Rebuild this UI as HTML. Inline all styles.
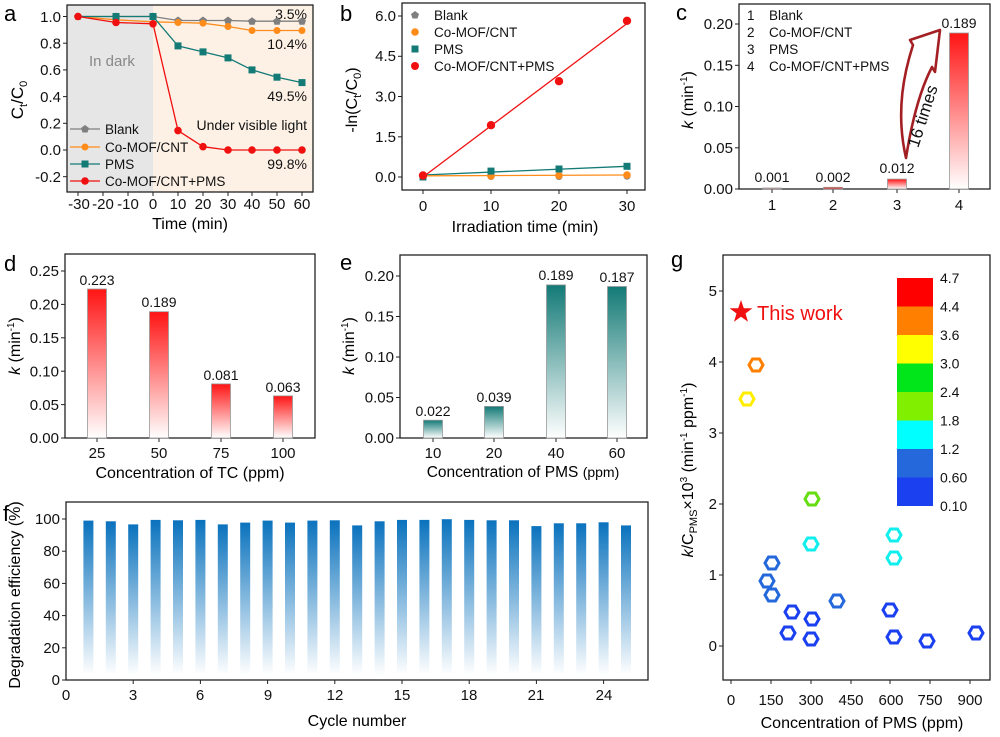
<!DOCTYPE html>
<html><head><meta charset="utf-8"><style>
html,body{margin:0;padding:0;background:#fff;}
svg{display:block;font-family:"Liberation Sans",Arial,sans-serif;}
</style></head><body>
<svg width="1000" height="737" viewBox="0 0 1000 737" xmlns="http://www.w3.org/2000/svg">
<defs>
<linearGradient id="gr" x1="0" y1="0" x2="0" y2="1"><stop offset="0" stop-color="#ff1414"/><stop offset="1" stop-color="#ffffff"/></linearGradient>
<linearGradient id="gt" x1="0" y1="0" x2="0" y2="1"><stop offset="0" stop-color="#137a76"/><stop offset="1" stop-color="#ffffff"/></linearGradient>
<linearGradient id="gb" x1="0" y1="0" x2="0" y2="1"><stop offset="0" stop-color="#0a72bd"/><stop offset="1" stop-color="#ffffff"/></linearGradient>
</defs>

<!-- ============ Panel a ============ -->
<rect x="67" y="5" width="86" height="187" fill="#e6e6e6"/>
<rect x="153" y="5" width="160" height="187" fill="#fdf1e6"/>
<rect x="67" y="5" width="246" height="187" fill="none" stroke="#222" stroke-width="1.3"/>
<g stroke="#222" stroke-width="1">
<line x1="63" y1="16.5" x2="67" y2="16.5"/><line x1="63" y1="43.2" x2="67" y2="43.2"/><line x1="63" y1="69.9" x2="67" y2="69.9"/><line x1="63" y1="96.6" x2="67" y2="96.6"/><line x1="63" y1="123.3" x2="67" y2="123.3"/><line x1="63" y1="150" x2="67" y2="150"/><line x1="63" y1="176.7" x2="67" y2="176.7"/>
<line x1="78" y1="192" x2="78" y2="196"/><line x1="103" y1="192" x2="103" y2="196"/><line x1="128" y1="192" x2="128" y2="196"/><line x1="153" y1="192" x2="153" y2="196"/><line x1="178" y1="192" x2="178" y2="196"/><line x1="203" y1="192" x2="203" y2="196"/><line x1="228" y1="192" x2="228" y2="196"/><line x1="252" y1="192" x2="252" y2="196"/><line x1="277" y1="192" x2="277" y2="196"/><line x1="302" y1="192" x2="302" y2="196"/>
</g>
<g font-size="15" text-anchor="end" fill="#111">
<text x="61" y="22">1.0</text><text x="61" y="48.5">0.8</text><text x="61" y="75">0.6</text><text x="61" y="102">0.4</text><text x="61" y="128.5">0.2</text><text x="61" y="155">0.0</text><text x="61" y="182">-0.2</text>
</g>
<g font-size="15" text-anchor="middle" fill="#111">
<text x="79" y="209">-30</text><text x="103" y="209">-20</text><text x="128" y="209">-10</text><text x="153" y="209">0</text><text x="178" y="209">10</text><text x="203" y="209">20</text><text x="228" y="209">30</text><text x="252" y="209">40</text><text x="277" y="209">50</text><text x="302" y="209">60</text>
</g>
<text x="190" y="229" font-size="16" text-anchor="middle">Time (min)</text>
<text transform="translate(23,100) rotate(-90)" font-size="17" text-anchor="middle">C<tspan font-size="11" dy="4">t</tspan><tspan dy="-4">/C</tspan><tspan font-size="11" dy="4">0</tspan></text>
<text x="4" y="21" font-size="22">a</text>
<text x="89" y="66" font-size="15" fill="#888">In dark</text>
<g font-size="14" text-anchor="end" fill="#111">
<text x="307" y="19">3.5%</text><text x="307" y="49">10.4%</text><text x="307" y="101">49.5%</text><text x="307" y="130">Under visible light</text><text x="307" y="169">99.8%</text>
</g>
<polyline fill="none" stroke="#7f7f7f" stroke-width="1.3" points="78,16.5 116,16.5 153,16.5 178,20.5 203,20.5 228,20.5 252,21.2 277,21.2 302,21.2"/>
<polyline fill="none" stroke="#ff8c1a" stroke-width="1.3" points="78,16.5 116,19.8 153,21.8 178,22.5 203,23.2 228,26.5 252,30.5 277,30.5 302,30.5"/>
<polyline fill="none" stroke="#137a76" stroke-width="1.3" points="78,16.5 116,16.5 153,16.5 178,45.9 203,51.9 228,57.9 252,69.9 277,77.2 302,82.6"/>
<polyline fill="none" stroke="#f01010" stroke-width="1.3" points="78,16.5 116,22.5 153,23.8 178,130.6 203,146.7 228,150 252,150 277,150 302,150"/>
<g fill="#7f7f7f">
<polygon points="78,12.5 82,15.5 80.5,20 75.5,20 74,15.5"/><polygon points="116,12.5 120,15.5 118.5,20 113.5,20 112,15.5"/><polygon points="153,12.5 157,15.5 155.5,20 150.5,20 149,15.5"/><polygon points="178,16.5 182,19.5 180.5,24 175.5,24 174,19.5"/><polygon points="203,16.5 207,19.5 205.5,24 200.5,24 199,19.5"/><polygon points="228,16.5 232,19.5 230.5,24 225.5,24 224,19.5"/><polygon points="252,17.2 256,20.2 254.5,24.7 249.5,24.7 248,20.2"/><polygon points="277,17.2 281,20.2 279.5,24.7 274.5,24.7 273,20.2"/><polygon points="302,17.2 306,20.2 304.5,24.7 299.5,24.7 298,20.2"/>
</g>
<g fill="#ff8c1a">
<circle cx="116" cy="19.8" r="3.5"/><circle cx="178" cy="22.5" r="3.5"/><circle cx="203" cy="23.2" r="3.5"/><circle cx="228" cy="26.5" r="3.5"/><circle cx="252" cy="30.5" r="3.5"/><circle cx="277" cy="30.5" r="3.5"/><circle cx="302" cy="30.5" r="3.5"/>
</g>
<g fill="#137a76">
<rect x="112.5" y="13" width="7" height="7"/><rect x="149.5" y="13" width="7" height="7"/><rect x="174.5" y="42.4" width="7" height="7"/><rect x="199.5" y="48.4" width="7" height="7"/><rect x="224.5" y="54.4" width="7" height="7"/><rect x="248.5" y="66.4" width="7" height="7"/><rect x="273.5" y="73.7" width="7" height="7"/><rect x="298.5" y="79.1" width="7" height="7"/>
</g>
<g fill="#f01010">
<circle cx="78" cy="16.5" r="3.8"/><circle cx="116" cy="22.5" r="3.8"/><circle cx="153" cy="23.8" r="3.8"/><circle cx="178" cy="130.6" r="3.8"/><circle cx="203" cy="146.7" r="3.8"/><circle cx="228" cy="150" r="3.8"/><circle cx="252" cy="150" r="3.8"/><circle cx="277" cy="150" r="3.8"/><circle cx="302" cy="150" r="3.8"/>
</g>
<line x1="70" y1="129" x2="100" y2="129" stroke="#7f7f7f" stroke-width="1.3"/><polygon points="85,125 89,128 87.5,132.5 82.5,132.5 81,128" fill="#7f7f7f"/>
<line x1="70" y1="147" x2="100" y2="147" stroke="#ff8c1a" stroke-width="1.3"/><circle cx="85" cy="147" r="3.5" fill="#ff8c1a"/>
<line x1="70" y1="164" x2="100" y2="164" stroke="#137a76" stroke-width="1.3"/><rect x="81.5" y="160.5" width="7" height="7" fill="#137a76"/>
<line x1="70" y1="181" x2="100" y2="181" stroke="#f01010" stroke-width="1.3"/><circle cx="85" cy="181" r="3.8" fill="#f01010"/>
<g font-size="13.5" fill="#111">
<text x="105" y="134">Blank</text><text x="105" y="152">Co-MOF/CNT</text><text x="105" y="169">PMS</text><text x="105" y="186">Co-MOF/CNT+PMS</text>
</g>

<!-- ============ Panel b ============ -->
<rect x="402" y="3" width="243" height="187" fill="none" stroke="#222" stroke-width="1.3"/>
<g stroke="#222" stroke-width="1">
<line x1="398" y1="16" x2="402" y2="16"/><line x1="398" y1="56.3" x2="402" y2="56.3"/><line x1="398" y1="96.5" x2="402" y2="96.5"/><line x1="398" y1="136.8" x2="402" y2="136.8"/><line x1="398" y1="177" x2="402" y2="177"/>
<line x1="423" y1="190" x2="423" y2="194"/><line x1="491" y1="190" x2="491" y2="194"/><line x1="559" y1="190" x2="559" y2="194"/><line x1="627" y1="190" x2="627" y2="194"/>
</g>
<g font-size="15" text-anchor="end" fill="#111">
<text x="396" y="21">6.0</text><text x="396" y="61">4.5</text><text x="396" y="101.5">3.0</text><text x="396" y="142">1.5</text><text x="396" y="182">0.0</text>
</g>
<g font-size="15" text-anchor="middle" fill="#111">
<text x="423" y="211">0</text><text x="491" y="211">10</text><text x="559" y="211">20</text><text x="627" y="211">30</text>
</g>
<text x="525" y="232" font-size="16" text-anchor="middle">Irradiation time (min)</text>
<text transform="translate(357,100) rotate(-90)" font-size="16" text-anchor="middle">-ln(C<tspan font-size="11" dy="4">t</tspan><tspan dy="-4">/C</tspan><tspan font-size="11" dy="4">0</tspan><tspan dy="-4">)</tspan></text>
<text x="340" y="21" font-size="22">b</text>
<line x1="423" y1="177" x2="627" y2="23.5" stroke="#f01010" stroke-width="1.3"/>
<line x1="423" y1="175" x2="627" y2="166.3" stroke="#137a76" stroke-width="1.3"/>
<line x1="423" y1="175.8" x2="627" y2="175" stroke="#ff8c1a" stroke-width="1.3"/>
<g fill="#7f7f7f"><circle cx="423" cy="177" r="3.5"/><circle cx="491" cy="176.5" r="3.5"/><circle cx="559" cy="176.5" r="3.5"/><circle cx="627" cy="176.2" r="3.5"/></g>
<g fill="#ff8c1a"><circle cx="491" cy="176" r="3.8"/><circle cx="559" cy="175.5" r="3.8"/><circle cx="627" cy="175" r="3.8"/></g>
<g fill="#137a76"><rect x="419.5" y="173.5" width="7" height="7"/><rect x="487.5" y="167.6" width="7" height="7"/><rect x="555.5" y="165.5" width="7" height="7"/><rect x="623.5" y="162.8" width="7" height="7"/></g>
<g fill="#f01010"><circle cx="423" cy="175.5" r="4.2"/><circle cx="491" cy="125.2" r="4.2"/><circle cx="559" cy="81.2" r="4.2"/><circle cx="627" cy="20.8" r="4.2"/></g>
<polygon points="415,11 419,14 417.5,18.5 412.5,18.5 411,14" fill="#7f7f7f"/>
<circle cx="415" cy="32" r="3.8" fill="#ff8c1a"/>
<rect x="411.5" y="45.5" width="7" height="7" fill="#137a76"/>
<circle cx="415" cy="66" r="4" fill="#f01010"/>
<g font-size="13.5" fill="#111"><text x="434" y="20">Blank</text><text x="434" y="37">Co-MOF/CNT</text><text x="434" y="54">PMS</text><text x="434" y="71">Co-MOF/CNT+PMS</text></g>

<!-- ============ Panel c ============ -->
<rect x="739" y="4" width="251" height="185" fill="none" stroke="#222" stroke-width="1.3"/>
<g stroke="#222" stroke-width="1">
<line x1="735" y1="24" x2="739" y2="24"/><line x1="735" y1="65.3" x2="739" y2="65.3"/><line x1="735" y1="106.5" x2="739" y2="106.5"/><line x1="735" y1="147.8" x2="739" y2="147.8"/><line x1="735" y1="189" x2="739" y2="189"/>
<line x1="772" y1="189" x2="772" y2="193"/><line x1="833" y1="189" x2="833" y2="193"/><line x1="897" y1="189" x2="897" y2="193"/><line x1="959" y1="189" x2="959" y2="193"/>
</g>
<g font-size="15" text-anchor="end" fill="#111">
<text x="733" y="29">0.20</text><text x="733" y="70.5">0.15</text><text x="733" y="111.5">0.10</text><text x="733" y="153">0.05</text><text x="733" y="194">0.00</text>
</g>
<g font-size="15" text-anchor="middle" fill="#111">
<text x="772" y="210">1</text><text x="833" y="210">2</text><text x="897" y="210">3</text><text x="959" y="210">4</text>
</g>
<text transform="translate(693,100) rotate(-90)" font-size="16" text-anchor="middle"><tspan font-style="italic">k</tspan> (min<tspan font-size="10" dy="-6">-1</tspan><tspan dy="6">)</tspan></text>
<text x="676" y="20" font-size="22">c</text>
<rect x="762.5" y="188" width="19" height="1" fill="url(#gr)" stroke="#999" stroke-width="0.8"/>
<rect x="823.5" y="187.3" width="19" height="1.7" fill="#e33" stroke="#999" stroke-width="0.8"/>
<rect x="887.5" y="179.1" width="19" height="9.9" fill="url(#gr)" stroke="#999" stroke-width="0.8"/>
<rect x="949.5" y="33" width="19" height="156" fill="url(#gr)" stroke="#999" stroke-width="0.8"/>
<g font-size="14" text-anchor="middle" fill="#111">
<text x="772" y="182">0.001</text><text x="833" y="182">0.002</text><text x="897" y="173">0.012</text><text x="959" y="28">0.189</text>
</g>
<g font-size="13.5" fill="#111">
<text x="747" y="20">1</text><text x="769" y="20">Blank</text>
<text x="747" y="37">2</text><text x="769" y="37">Co-MOF/CNT</text>
<text x="747" y="54">3</text><text x="769" y="54">PMS</text>
<text x="747" y="71">4</text><text x="769" y="71">Co-MOF/CNT+PMS</text>
</g>
<path d="M906,158 C895,110 905,70 913,45 L910,40 L940,30 L935,72 L932,67 C920,90 912,120 906,158 Z" fill="none" stroke="#a31f24" stroke-width="2.6" stroke-linejoin="round"/>
<text transform="translate(928,118) rotate(-72)" font-size="17" text-anchor="middle" fill="#111">16 times</text>

<!-- ============ Panel d ============ -->
<rect x="65" y="254" width="250" height="184" fill="none" stroke="#222" stroke-width="1.3"/>
<g stroke="#222" stroke-width="1">
<line x1="61" y1="271" x2="65" y2="271"/><line x1="61" y1="304.4" x2="65" y2="304.4"/><line x1="61" y1="337.8" x2="65" y2="337.8"/><line x1="61" y1="371.2" x2="65" y2="371.2"/><line x1="61" y1="404.6" x2="65" y2="404.6"/><line x1="61" y1="438" x2="65" y2="438"/>
<line x1="97" y1="438" x2="97" y2="442"/><line x1="159" y1="438" x2="159" y2="442"/><line x1="221" y1="438" x2="221" y2="442"/><line x1="283" y1="438" x2="283" y2="442"/>
</g>
<g font-size="15" text-anchor="end" fill="#111">
<text x="59" y="276">0.25</text><text x="59" y="309.5">0.20</text><text x="59" y="343">0.15</text><text x="59" y="376.5">0.10</text><text x="59" y="410">0.05</text><text x="59" y="443">0.00</text>
</g>
<g font-size="15" text-anchor="middle" fill="#111">
<text x="97" y="458">25</text><text x="159" y="458">50</text><text x="221" y="458">75</text><text x="283" y="458">100</text>
</g>
<text x="190" y="478" font-size="16" text-anchor="middle">Concentration of TC (ppm)</text>
<text transform="translate(20,346) rotate(-90)" font-size="16" text-anchor="middle"><tspan font-style="italic">k</tspan> (min<tspan font-size="10" dy="-6">-1</tspan><tspan dy="6">)</tspan></text>
<text x="4" y="271" font-size="22">d</text>
<rect x="87.5" y="289" width="19" height="149" fill="url(#gr)" stroke="#999" stroke-width="0.8"/>
<rect x="149.5" y="311.7" width="19" height="126.3" fill="url(#gr)" stroke="#999" stroke-width="0.8"/>
<rect x="211.5" y="383.9" width="19" height="54.1" fill="url(#gr)" stroke="#999" stroke-width="0.8"/>
<rect x="273.5" y="395.9" width="19" height="42.1" fill="url(#gr)" stroke="#999" stroke-width="0.8"/>
<g font-size="14" text-anchor="middle" fill="#111">
<text x="97" y="285">0.223</text><text x="159" y="307">0.189</text><text x="221" y="380">0.081</text><text x="283" y="392">0.063</text>
</g>

<!-- ============ Panel e ============ -->
<rect x="400" y="255" width="247" height="183" fill="none" stroke="#222" stroke-width="1.3"/>
<g stroke="#222" stroke-width="1">
<line x1="396" y1="276" x2="400" y2="276"/><line x1="396" y1="316.5" x2="400" y2="316.5"/><line x1="396" y1="357" x2="400" y2="357"/><line x1="396" y1="397.5" x2="400" y2="397.5"/><line x1="396" y1="438" x2="400" y2="438"/>
<line x1="433" y1="438" x2="433" y2="442"/><line x1="494" y1="438" x2="494" y2="442"/><line x1="556" y1="438" x2="556" y2="442"/><line x1="617" y1="438" x2="617" y2="442"/>
</g>
<g font-size="15" text-anchor="end" fill="#111">
<text x="394" y="281">0.20</text><text x="394" y="321.5">0.15</text><text x="394" y="362">0.10</text><text x="394" y="402.5">0.05</text><text x="394" y="443">0.00</text>
</g>
<g font-size="15" text-anchor="middle" fill="#111">
<text x="433" y="458">10</text><text x="494" y="458">20</text><text x="556" y="458">40</text><text x="617" y="458">60</text>
</g>
<text x="523" y="477" font-size="15.5" text-anchor="middle">Concentration of PMS <tspan font-size="14">(ppm)</tspan></text>
<text transform="translate(354,346) rotate(-90)" font-size="16" text-anchor="middle"><tspan font-style="italic">k</tspan> (min<tspan font-size="10" dy="-6">-1</tspan><tspan dy="6">)</tspan></text>
<text x="340" y="270" font-size="22">e</text>
<rect x="423.5" y="420.2" width="19" height="17.8" fill="url(#gt)" stroke="#999" stroke-width="0.8"/>
<rect x="484.5" y="406.4" width="19" height="31.6" fill="url(#gt)" stroke="#999" stroke-width="0.8"/>
<rect x="546.5" y="284.9" width="19" height="153.1" fill="url(#gt)" stroke="#999" stroke-width="0.8"/>
<rect x="607.5" y="286.5" width="19" height="151.5" fill="url(#gt)" stroke="#999" stroke-width="0.8"/>
<g font-size="14" text-anchor="middle" fill="#111">
<text x="433" y="416">0.022</text><text x="494" y="402">0.039</text><text x="556" y="280">0.189</text><text x="617" y="282">0.187</text>
</g>

<!-- ============ Panel f ============ -->
<g fill="url(#gb)">
<rect x="83.4" y="520.6" width="10" height="154.4"/>
<rect x="105.8" y="521.3" width="10" height="153.7"/>
<rect x="128.2" y="524.4" width="10" height="150.6"/>
<rect x="150.6" y="519.9" width="10" height="155.1"/>
<rect x="173" y="520.3" width="10" height="154.7"/>
<rect x="195.4" y="519.9" width="10" height="155.1"/>
<rect x="217.8" y="524.4" width="10" height="150.6"/>
<rect x="240.2" y="522.6" width="10" height="152.4"/>
<rect x="262.6" y="520.6" width="10" height="154.4"/>
<rect x="285" y="522.6" width="10" height="152.4"/>
<rect x="307.4" y="520.6" width="10" height="154.4"/>
<rect x="329.8" y="520.3" width="10" height="154.7"/>
<rect x="352.2" y="525.4" width="10" height="149.6"/>
<rect x="374.6" y="521.3" width="10" height="153.7"/>
<rect x="397" y="519.9" width="10" height="155.1"/>
<rect x="419.4" y="519.9" width="10" height="155.1"/>
<rect x="441.8" y="519.2" width="10" height="155.8"/>
<rect x="464.2" y="519.9" width="10" height="155.1"/>
<rect x="486.6" y="520.3" width="10" height="154.7"/>
<rect x="509" y="520.3" width="10" height="154.7"/>
<rect x="531.4" y="526.1" width="10" height="148.9"/>
<rect x="553.8" y="523.3" width="10" height="151.7"/>
<rect x="576.2" y="523.3" width="10" height="151.7"/>
<rect x="598.6" y="522.3" width="10" height="152.7"/>
<rect x="621" y="525.4" width="10" height="149.6"/>
</g>
<rect x="66" y="502" width="582" height="178" fill="none" stroke="#222" stroke-width="1.3"/>
<g stroke="#222" stroke-width="1">
<line x1="62" y1="519" x2="66" y2="519"/><line x1="62" y1="551.2" x2="66" y2="551.2"/><line x1="62" y1="583.4" x2="66" y2="583.4"/><line x1="62" y1="615.6" x2="66" y2="615.6"/><line x1="62" y1="647.8" x2="66" y2="647.8"/><line x1="62" y1="680" x2="66" y2="680"/>
<line x1="133.2" y1="680" x2="133.2" y2="684"/><line x1="200.4" y1="680" x2="200.4" y2="684"/><line x1="267.6" y1="680" x2="267.6" y2="684"/><line x1="334.8" y1="680" x2="334.8" y2="684"/><line x1="402" y1="680" x2="402" y2="684"/><line x1="469.2" y1="680" x2="469.2" y2="684"/><line x1="536.4" y1="680" x2="536.4" y2="684"/><line x1="603.6" y1="680" x2="603.6" y2="684"/>
</g>
<g font-size="15" text-anchor="end" fill="#111">
<text x="60" y="524">100</text><text x="60" y="556">80</text><text x="60" y="588.5">60</text><text x="60" y="620.5">40</text><text x="60" y="653">20</text><text x="60" y="685">0</text>
</g>
<g font-size="15" text-anchor="middle" fill="#111">
<text x="66" y="700">0</text><text x="133" y="700">3</text><text x="200" y="700">6</text><text x="268" y="700">9</text><text x="335" y="700">12</text><text x="402" y="700">15</text><text x="469" y="700">18</text><text x="536" y="700">21</text><text x="604" y="700">24</text>
</g>
<text x="357" y="726" font-size="16" text-anchor="middle">Cycle number</text>
<text transform="translate(20,595) rotate(-90)" font-size="16" text-anchor="middle">Degradation efficiency (%)</text>
<text x="3" y="521" font-size="22">f</text>

<!-- ============ Panel g ============ -->
<rect x="723" y="255" width="267" height="425" fill="none" stroke="#222" stroke-width="1.3"/>
<g stroke="#222" stroke-width="1">
<line x1="719" y1="291" x2="723" y2="291"/><line x1="719" y1="362" x2="723" y2="362"/><line x1="719" y1="433" x2="723" y2="433"/><line x1="719" y1="504" x2="723" y2="504"/><line x1="719" y1="575" x2="723" y2="575"/><line x1="719" y1="646" x2="723" y2="646"/>
<line x1="731" y1="680" x2="731" y2="684"/><line x1="771" y1="680" x2="771" y2="684"/><line x1="811" y1="680" x2="811" y2="684"/><line x1="851" y1="680" x2="851" y2="684"/><line x1="890" y1="680" x2="890" y2="684"/><line x1="930" y1="680" x2="930" y2="684"/><line x1="970" y1="680" x2="970" y2="684"/>
</g>
<g font-size="15" text-anchor="end" fill="#111">
<text x="717" y="296">5</text><text x="717" y="367">4</text><text x="717" y="438">3</text><text x="717" y="509">2</text><text x="717" y="580">1</text><text x="717" y="651">0</text>
</g>
<g font-size="15" text-anchor="middle" fill="#111">
<text x="731" y="705">0</text><text x="771" y="705">150</text><text x="811" y="705">300</text><text x="851" y="705">450</text><text x="891" y="705">600</text><text x="930" y="705">750</text><text x="970" y="705">900</text>
</g>
<text x="862" y="728" font-size="16" text-anchor="middle">Concentration of PMS (ppm)</text>
<text transform="translate(693,470) rotate(-90)" font-size="16" text-anchor="middle"><tspan font-style="italic">k</tspan>/C<tspan font-size="11" dy="4">PMS</tspan><tspan dy="-4">×10</tspan><tspan font-size="10" dy="-6">3</tspan><tspan dy="6"> (min</tspan><tspan font-size="10" dy="-6">-1</tspan><tspan dy="6"> ppm</tspan><tspan font-size="10" dy="-6">-1</tspan><tspan dy="6">)</tspan></text>
<text x="671" y="267" font-size="22">g</text>
<polygon points="741,300 743.8,308.2 752.4,308.3 745.5,313.5 748,321.8 741,316.8 734,321.8 736.5,313.5 729.6,308.3 738.2,308.2" fill="#f01010"/>
<text x="757" y="320" font-size="20" fill="#f01010">This work</text>
<rect x="897" y="278" width="36" height="28.5" fill="#ff0000"/>
<rect x="897" y="306.5" width="36" height="28.5" fill="#ff8000"/>
<rect x="897" y="335" width="36" height="28.5" fill="#ffff00"/>
<rect x="897" y="363.5" width="36" height="28.5" fill="#00e61a"/>
<rect x="897" y="392" width="36" height="28.5" fill="#80f000"/>
<rect x="897" y="420.5" width="36" height="28.5" fill="#00ffff"/>
<rect x="897" y="449" width="36" height="28.5" fill="#2468dc"/>
<rect x="897" y="477.5" width="36" height="28.5" fill="#1a40f0"/>
<g font-size="14" fill="#111">
<text x="940" y="283">4.7</text><text x="940" y="311.5">4.4</text><text x="940" y="340">3.6</text><text x="940" y="368.5">3.0</text><text x="940" y="397">2.4</text><text x="940" y="425.5">1.8</text><text x="940" y="454">1.2</text><text x="940" y="482.5">0.60</text><text x="940" y="511">0.10</text>
</g>
<g fill="none" stroke-width="3">
<polygon stroke="#ff8000" transform="translate(756,365)" points="7,0 3.5,6.06 -3.5,6.06 -7,0 -3.5,-6.06 3.5,-6.06"/>
<polygon stroke="#ffee00" transform="translate(747,399)" points="7,0 3.5,6.06 -3.5,6.06 -7,0 -3.5,-6.06 3.5,-6.06"/>
<polygon stroke="#66dd11" transform="translate(812,499)" points="7,0 3.5,6.06 -3.5,6.06 -7,0 -3.5,-6.06 3.5,-6.06"/>
<polygon stroke="#11eeee" transform="translate(811,544)" points="7,0 3.5,6.06 -3.5,6.06 -7,0 -3.5,-6.06 3.5,-6.06"/>
<polygon stroke="#11eeee" transform="translate(894,535)" points="7,0 3.5,6.06 -3.5,6.06 -7,0 -3.5,-6.06 3.5,-6.06"/>
<polygon stroke="#11eeee" transform="translate(894,558)" points="7,0 3.5,6.06 -3.5,6.06 -7,0 -3.5,-6.06 3.5,-6.06"/>
<polygon stroke="#2468dc" transform="translate(772,563)" points="7,0 3.5,6.06 -3.5,6.06 -7,0 -3.5,-6.06 3.5,-6.06"/>
<polygon stroke="#2468dc" transform="translate(767,581)" points="7,0 3.5,6.06 -3.5,6.06 -7,0 -3.5,-6.06 3.5,-6.06"/>
<polygon stroke="#2468dc" transform="translate(772,595)" points="7,0 3.5,6.06 -3.5,6.06 -7,0 -3.5,-6.06 3.5,-6.06"/>
<polygon stroke="#2468dc" transform="translate(837,601)" points="7,0 3.5,6.06 -3.5,6.06 -7,0 -3.5,-6.06 3.5,-6.06"/>
<polygon stroke="#1a40f0" transform="translate(792,612)" points="7,0 3.5,6.06 -3.5,6.06 -7,0 -3.5,-6.06 3.5,-6.06"/>
<polygon stroke="#1a40f0" transform="translate(812,619)" points="7,0 3.5,6.06 -3.5,6.06 -7,0 -3.5,-6.06 3.5,-6.06"/>
<polygon stroke="#1a40f0" transform="translate(788,633)" points="7,0 3.5,6.06 -3.5,6.06 -7,0 -3.5,-6.06 3.5,-6.06"/>
<polygon stroke="#1a40f0" transform="translate(811,639)" points="7,0 3.5,6.06 -3.5,6.06 -7,0 -3.5,-6.06 3.5,-6.06"/>
<polygon stroke="#1a40f0" transform="translate(890,610)" points="7,0 3.5,6.06 -3.5,6.06 -7,0 -3.5,-6.06 3.5,-6.06"/>
<polygon stroke="#1a40f0" transform="translate(894,637)" points="7,0 3.5,6.06 -3.5,6.06 -7,0 -3.5,-6.06 3.5,-6.06"/>
<polygon stroke="#1a40f0" transform="translate(927,641)" points="7,0 3.5,6.06 -3.5,6.06 -7,0 -3.5,-6.06 3.5,-6.06"/>
<polygon stroke="#1a40f0" transform="translate(976,633)" points="7,0 3.5,6.06 -3.5,6.06 -7,0 -3.5,-6.06 3.5,-6.06"/>
</g>
</svg>
</body></html>
